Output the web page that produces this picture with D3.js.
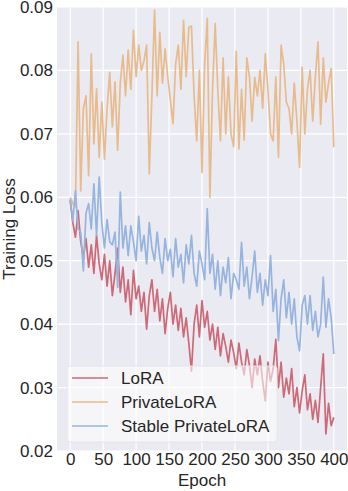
<html>
    <script src='https://d3js.org/d3.v7.min.js'></script>
    <style type="text/css">
        body {
            margin: 0;
            background: #fff;
        }
        * {
            font-family: 'Liberation Sans', Arial, sans-serif;
        }
    </style>
    <body>
        <div id="chart"></div>
        <script>
            // values, one every 4 epochs (0..400)
            var epochStep = 4;
            var lora = [
                .0595, .0560, .0537, .0579, .0530, .0505, .0535, .0490, .0525, .0480,
                .0540, .0495, .0470, .0510, .0460, .0500, .0445, .0480, .0520, .0450,
                .0490, .0435, .0470, .0415, .0485, .0440, .0460, .0420, .0450, .0392,
                .0445, .0470, .0420, .0455, .0405, .0440, .0385, .0425, .0450, .0400,
                .0430, .0390, .0425, .0380, .0410, .0370, .0326, .0400, .0430, .0380,
                .0437, .0395, .0420, .0375, .0400, .0360, .0395, .0350, .0385, .0365,
                .0340, .0375, .0355, .0330, .0370, .0340, .0320, .0360, .0335, .0300,
                .0345, .0320, .0350, .0310, .0279, .0340, .0310, .0330, .0376, .0300,
                .0340, .0285, .0315, .0290, .0330, .0270, .0300, .0260, .0295, .0320,
                .0265, .0290, .0250, .0280, .0245, .0300, .0353, .0227, .0275, .0240,
                .0253
            ];
            var privateLora = [
                .0600, .0590, .0585, .0845, .0610, .0740, .0760, .0634, .0826, .0684,
                .0771, .0663, .0750, .0660, .0740, .0797, .0711, .0782, .0674, .0780,
                .0824, .0760, .0832, .0770, .0863, .0790, .0840, .0800, .0815, .0840,
                .0637, .0760, .0895, .0760, .0860, .0780, .0834, .0790, .0753, .0716,
                .0810, .0840, .0770, .0879, .0790, .0868, .0870, .0760, .0689, .0800,
                .0639, .0810, .0882, .0600, .0770, .0874, .0770, .0689, .0820, .0700,
                .0790, .0700, .0680, .0830, .0676, .0770, .0690, .0820, .0790, .0720,
                .0789, .0760, .0800, .0740, .0826, .0770, .0700, .0689, .0790, .0663,
                .0840, .0810, .0750, .0740, .0700, .0780, .0720, .0647, .0805, .0700,
                .0770, .0800, .0720, .0790, .0845, .0715, .0820, .0750, .0780, .0803,
                .0679
            ];
            var stablePrivateLora = [
                .0597, .0563, .0610, .0550, .0545, .0484, .0575, .0590, .0550, .0621,
                .0540, .0632, .0560, .0520, .0565, .0530, .0525, .0545, .0458, .0608,
                .0520, .0555, .0508, .0555, .0530, .0500, .0570, .0515, .0540, .0495,
                .0560, .0520, .0500, .0545, .0505, .0480, .0535, .0500, .0518, .0475,
                .0535, .0490, .0510, .0465, .0525, .0495, .0540, .0480, .0460, .0515,
                .0495, .0470, .0582, .0480, .0510, .0455, .0500, .0445, .0490, .0465,
                .0505, .0440, .0480, .0470, .0455, .0529, .0460, .0490, .0440, .0475,
                .0515, .0450, .0480, .0430, .0470, .0445, .0508, .0420, .0455, .0374,
                .0440, .0470, .0410, .0450, .0400, .0440, .0380, .0358, .0430, .0445,
                .0400, .0445, .0390, .0420, .0380, .0400, .0474, .0395, .0440, .0410,
                .0353
            ];
            var seriesNames = ["LoRA", "PrivateLoRA", "Stable PrivateLoRA"];
            var seriesColors = ["#cd6a78", "#e8bb8d", "#96b4de"];
            var xTicks = [0, 50, 100, 150, 200, 250, 300, 350, 400];
            var yTicks = [0.02, 0.03, 0.04, 0.05, 0.06, 0.07, 0.08, 0.09];

            var width = 348;
            var height = 491;
            var margin = {top: 7, right: 1, bottom: 40, left: 57};
            var plotW = width - margin.left - margin.right;
            var plotH = height - margin.top - margin.bottom;

            var svg = d3.select("#chart")
                        .append("svg")
                        .attr("width", width)
                        .attr("height", height);

            var g = svg.append("g")
                       .attr("transform", "translate(" + margin.left + "," + margin.top + ")");

            // matplotlib-like 5% margins on x
            var xs = d3.scaleLinear().domain([-20, 420]).range([0, plotW]);
            var ys = d3.scaleLinear().domain([0.02, 0.09]).range([plotH, 0]);

            // seaborn darkgrid background
            g.append("rect")
             .attr("width", plotW)
             .attr("height", plotH)
             .attr("fill", "#eaeaf2");

            // grid lines
            g.selectAll(".xgrid")
             .data(xTicks)
             .enter()
             .append("line")
             .attr("x1", function(d){ return xs(d); })
             .attr("x2", function(d){ return xs(d); })
             .attr("y1", 0)
             .attr("y2", plotH)
             .attr("stroke", "#fff")
             .attr("stroke-width", 1.2);
            g.selectAll(".ygrid")
             .data(yTicks)
             .enter()
             .append("line")
             .attr("y1", function(d){ return ys(d); })
             .attr("y2", function(d){ return ys(d); })
             .attr("x1", 0)
             .attr("x2", plotW)
             .attr("stroke", "#fff")
             .attr("stroke-width", 1.2);

            // lines
            var line = d3.line()
                         .x(function(d, i){ return xs(i * epochStep); })
                         .y(function(d){ return ys(d); });

            var allSeries = [lora, privateLora, stablePrivateLora];
            allSeries.forEach(function(s, k) {
                g.append("path")
                 .datum(s)
                 .attr("d", line)
                 .attr("fill", "none")
                 .attr("stroke", seriesColors[k])
                 .attr("stroke-width", 1.7)
                 .attr("stroke-linejoin", "round");
            });

            // x axis
            var xAxis = g.append("g")
                         .attr("transform", "translate(0," + plotH + ")")
                         .call(d3.axisBottom(xs).tickValues(xTicks).tickSize(0).tickPadding(2));
            xAxis.select(".domain").remove();
            xAxis.selectAll("text")
                 .attr("fill", "#262626")
                 .style("font-size", "17px");

            // y axis
            var yAxis = g.append("g")
                         .call(d3.axisLeft(ys).tickValues(yTicks).tickSize(0).tickPadding(4)
                                 .tickFormat(d3.format(".2f")));
            yAxis.select(".domain").remove();
            yAxis.selectAll("text")
                 .attr("fill", "#262626")
                 .style("font-size", "17px");

            // axis labels
            svg.append("text")
               .attr("x", margin.left + xs(200))
               .attr("y", 486)
               .attr("text-anchor", "middle")
               .attr("fill", "#262626")
               .style("font-size", "17px")
               .text("Epoch");
            svg.append("text")
               .attr("transform", "translate(15," + (margin.top + plotH / 2) + ") rotate(-90)")
               .attr("text-anchor", "middle")
               .attr("fill", "#262626")
               .style("font-size", "17px")
               .text("Training Loss");

            // legend
            var legend = svg.append("g")
                            .attr("transform", "translate(67,366)");
            legend.append("rect")
                  .attr("width", 210)
                  .attr("height", 76)
                  .attr("rx", 3)
                  .attr("fill", "#fff")
                  .attr("fill-opacity", 0.55)
                  .attr("stroke", "#e4e4ea")
                  .attr("stroke-width", 1);
            seriesNames.forEach(function(name, k) {
                legend.append("line")
                      .attr("x1", 5)
                      .attr("x2", 41)
                      .attr("y1", 12 + k * 24)
                      .attr("y2", 12 + k * 24)
                      .attr("stroke", seriesColors[k])
                      .attr("stroke-width", 1.5);
                legend.append("text")
                      .attr("x", 54)
                      .attr("y", 18 + k * 24)
                      .attr("fill", "#262626")
                      .style("font-size", "17px")
                      .text(name);
            });
        </script>
    </body>
</html>
